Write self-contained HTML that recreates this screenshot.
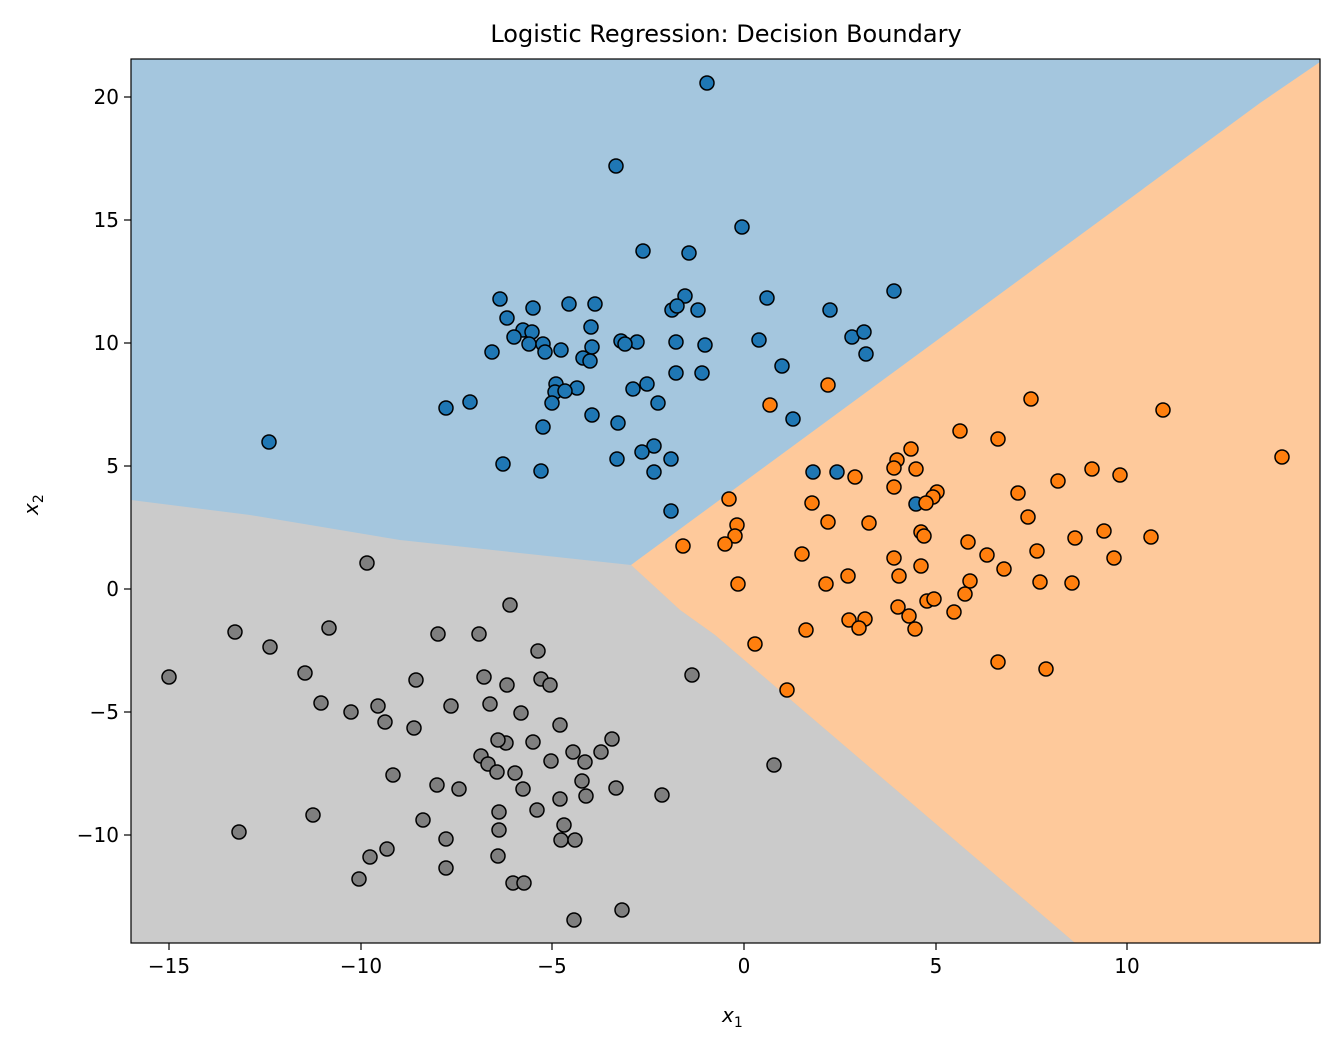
<!DOCTYPE html>
<html><head><meta charset="utf-8"><style>
html,body{margin:0;padding:0;background:#fff}
svg{display:block}
text{font-family:"DejaVu Sans","Liberation Sans",sans-serif;fill:#000}
</style></head><body>
<svg width="1340" height="1046" viewBox="0 0 1340 1046" xmlns="http://www.w3.org/2000/svg">
<defs><clipPath id="c"><rect x="131" y="59" width="1189" height="884"/></clipPath></defs>
<g clip-path="url(#c)">
<rect x="131" y="59" width="1189" height="884" fill="#a4c6de"/>
<polygon points="131,500 131,943 1075,943 715,635 680,610 631,565 400,540 250,515" fill="#cbcbcb"/>
<polygon points="631,565 680,610 715,635 1075,943 1320,943 1320,62 1260,103" fill="#fec99b"/>
</g>
<g stroke="#000" stroke-width="1.5">
<g fill="#1f77b4">
<circle cx="707" cy="83" r="7"/><circle cx="616" cy="166" r="7"/><circle cx="742" cy="227" r="7"/><circle cx="643" cy="251" r="7"/><circle cx="689" cy="253" r="7"/><circle cx="685" cy="296" r="7"/><circle cx="672" cy="310" r="7"/><circle cx="677" cy="306" r="7"/><circle cx="698" cy="310" r="7"/><circle cx="767" cy="298" r="7"/><circle cx="894" cy="291" r="7"/><circle cx="500" cy="299" r="7"/><circle cx="830" cy="310" r="7"/><circle cx="507" cy="318" r="7"/><circle cx="533" cy="308" r="7"/><circle cx="523" cy="330" r="7"/><circle cx="569" cy="304" r="7"/><circle cx="595" cy="304" r="7"/><circle cx="532" cy="332" r="7"/><circle cx="514" cy="337" r="7"/><circle cx="529" cy="344" r="7"/><circle cx="543" cy="344" r="7"/><circle cx="492" cy="352" r="7"/><circle cx="545" cy="352" r="7"/><circle cx="561" cy="350" r="7"/><circle cx="591" cy="327" r="7"/><circle cx="592" cy="347" r="7"/><circle cx="621" cy="341" r="7"/><circle cx="637" cy="342" r="7"/><circle cx="625" cy="344" r="7"/><circle cx="705" cy="345" r="7"/><circle cx="676" cy="342" r="7"/><circle cx="759" cy="340" r="7"/><circle cx="852" cy="337" r="7"/><circle cx="864" cy="332" r="7"/><circle cx="866" cy="354" r="7"/><circle cx="782" cy="366" r="7"/><circle cx="583" cy="358" r="7"/><circle cx="590" cy="361" r="7"/><circle cx="556" cy="384" r="7"/><circle cx="555" cy="392" r="7"/><circle cx="577" cy="388" r="7"/><circle cx="565" cy="391" r="7"/><circle cx="633" cy="389" r="7"/><circle cx="647" cy="384" r="7"/><circle cx="676" cy="373" r="7"/><circle cx="702" cy="373" r="7"/><circle cx="552" cy="403" r="7"/><circle cx="446" cy="408" r="7"/><circle cx="470" cy="402" r="7"/><circle cx="592" cy="415" r="7"/><circle cx="658" cy="403" r="7"/><circle cx="793" cy="419" r="7"/><circle cx="543" cy="427" r="7"/><circle cx="618" cy="423" r="7"/><circle cx="269" cy="442" r="7"/><circle cx="654" cy="446" r="7"/><circle cx="642" cy="452" r="7"/><circle cx="654" cy="472" r="7"/><circle cx="671" cy="459" r="7"/><circle cx="617" cy="459" r="7"/><circle cx="503" cy="464" r="7"/><circle cx="541" cy="471" r="7"/><circle cx="671" cy="511" r="7"/><circle cx="813" cy="472" r="7"/><circle cx="837" cy="472" r="7"/><circle cx="916" cy="504" r="7"/>
</g>
<g fill="#ff7f0e">
<circle cx="828" cy="385" r="7"/><circle cx="770" cy="405" r="7"/><circle cx="1031" cy="399" r="7"/><circle cx="1163" cy="410" r="7"/><circle cx="960" cy="431" r="7"/><circle cx="911" cy="449" r="7"/><circle cx="897" cy="460" r="7"/><circle cx="894" cy="468" r="7"/><circle cx="998" cy="439" r="7"/><circle cx="916" cy="469" r="7"/><circle cx="1282" cy="457" r="7"/><circle cx="894" cy="487" r="7"/><circle cx="1092" cy="469" r="7"/><circle cx="1120" cy="475" r="7"/><circle cx="1058" cy="481" r="7"/><circle cx="1018" cy="493" r="7"/><circle cx="937" cy="492" r="7"/><circle cx="933" cy="497" r="7"/><circle cx="926" cy="503" r="7"/><circle cx="812" cy="503" r="7"/><circle cx="729" cy="499" r="7"/><circle cx="1028" cy="517" r="7"/><circle cx="1104" cy="531" r="7"/><circle cx="1151" cy="537" r="7"/><circle cx="921" cy="532" r="7"/><circle cx="924" cy="536" r="7"/><circle cx="1075" cy="538" r="7"/><circle cx="737" cy="525" r="7"/><circle cx="735" cy="536" r="7"/><circle cx="725" cy="544" r="7"/><circle cx="683" cy="546" r="7"/><circle cx="828" cy="522" r="7"/><circle cx="869" cy="523" r="7"/><circle cx="968" cy="542" r="7"/><circle cx="802" cy="554" r="7"/><circle cx="1037" cy="551" r="7"/><circle cx="987" cy="555" r="7"/><circle cx="894" cy="558" r="7"/><circle cx="1004" cy="569" r="7"/><circle cx="1114" cy="558" r="7"/><circle cx="921" cy="566" r="7"/><circle cx="738" cy="584" r="7"/><circle cx="826" cy="584" r="7"/><circle cx="970" cy="581" r="7"/><circle cx="1040" cy="582" r="7"/><circle cx="1072" cy="583" r="7"/><circle cx="899" cy="576" r="7"/><circle cx="855" cy="477" r="7"/><circle cx="848" cy="576" r="7"/><circle cx="965" cy="594" r="7"/><circle cx="927" cy="601" r="7"/><circle cx="934" cy="599" r="7"/><circle cx="898" cy="607" r="7"/><circle cx="954" cy="612" r="7"/><circle cx="849" cy="620" r="7"/><circle cx="865" cy="619" r="7"/><circle cx="859" cy="628" r="7"/><circle cx="909" cy="616" r="7"/><circle cx="915" cy="629" r="7"/><circle cx="806" cy="630" r="7"/><circle cx="755" cy="644" r="7"/><circle cx="998" cy="662" r="7"/><circle cx="1046" cy="669" r="7"/><circle cx="787" cy="690" r="7"/>
</g>
<g fill="#7f7f7f">
<circle cx="367" cy="563" r="7"/><circle cx="510" cy="605" r="7"/><circle cx="235" cy="632" r="7"/><circle cx="270" cy="647" r="7"/><circle cx="329" cy="628" r="7"/><circle cx="438" cy="634" r="7"/><circle cx="479" cy="634" r="7"/><circle cx="538" cy="651" r="7"/><circle cx="169" cy="677" r="7"/><circle cx="305" cy="673" r="7"/><circle cx="416" cy="680" r="7"/><circle cx="484" cy="677" r="7"/><circle cx="507" cy="685" r="7"/><circle cx="541" cy="679" r="7"/><circle cx="550" cy="685" r="7"/><circle cx="692" cy="675" r="7"/><circle cx="321" cy="703" r="7"/><circle cx="378" cy="706" r="7"/><circle cx="490" cy="704" r="7"/><circle cx="351" cy="712" r="7"/><circle cx="385" cy="722" r="7"/><circle cx="451" cy="706" r="7"/><circle cx="521" cy="713" r="7"/><circle cx="414" cy="728" r="7"/><circle cx="560" cy="725" r="7"/><circle cx="481" cy="756" r="7"/><circle cx="506" cy="743" r="7"/><circle cx="533" cy="742" r="7"/><circle cx="573" cy="752" r="7"/><circle cx="601" cy="752" r="7"/><circle cx="612" cy="739" r="7"/><circle cx="585" cy="762" r="7"/><circle cx="498" cy="740" r="7"/><circle cx="393" cy="775" r="7"/><circle cx="437" cy="785" r="7"/><circle cx="459" cy="789" r="7"/><circle cx="488" cy="764" r="7"/><circle cx="515" cy="773" r="7"/><circle cx="497" cy="772" r="7"/><circle cx="523" cy="789" r="7"/><circle cx="551" cy="761" r="7"/><circle cx="582" cy="781" r="7"/><circle cx="616" cy="788" r="7"/><circle cx="662" cy="795" r="7"/><circle cx="774" cy="765" r="7"/><circle cx="560" cy="799" r="7"/><circle cx="586" cy="796" r="7"/><circle cx="537" cy="810" r="7"/><circle cx="423" cy="820" r="7"/><circle cx="313" cy="815" r="7"/><circle cx="499" cy="812" r="7"/><circle cx="564" cy="825" r="7"/><circle cx="499" cy="830" r="7"/><circle cx="239" cy="832" r="7"/><circle cx="446" cy="839" r="7"/><circle cx="561" cy="840" r="7"/><circle cx="575" cy="840" r="7"/><circle cx="370" cy="857" r="7"/><circle cx="387" cy="849" r="7"/><circle cx="498" cy="856" r="7"/><circle cx="446" cy="868" r="7"/><circle cx="359" cy="879" r="7"/><circle cx="513" cy="883" r="7"/><circle cx="524" cy="883" r="7"/><circle cx="574" cy="920" r="7"/><circle cx="622" cy="910" r="7"/>
</g>
</g>
<rect x="131" y="59" width="1189" height="884" fill="none" stroke="#000" stroke-width="1.2"/>
<g stroke="#000" stroke-width="1.2">
<line x1="169" y1="943" x2="169" y2="950"/><line x1="361" y1="943" x2="361" y2="950"/><line x1="552" y1="943" x2="552" y2="950"/><line x1="744" y1="943" x2="744" y2="950"/><line x1="936" y1="943" x2="936" y2="950"/><line x1="1127" y1="943" x2="1127" y2="950"/>
<line x1="124" y1="97" x2="131" y2="97"/><line x1="124" y1="220" x2="131" y2="220"/><line x1="124" y1="343" x2="131" y2="343"/><line x1="124" y1="466" x2="131" y2="466"/><line x1="124" y1="589" x2="131" y2="589"/><line x1="124" y1="712" x2="131" y2="712"/><line x1="124" y1="835" x2="131" y2="835"/>
</g>
<g font-size="20" text-anchor="middle">
<text x="169" y="973">−15</text><text x="361" y="973">−10</text><text x="552" y="973">−5</text><text x="744" y="973">0</text><text x="936" y="973">5</text><text x="1127" y="973">10</text>
</g>
<g font-size="20" text-anchor="end">
<text x="119" y="104">20</text><text x="119" y="227">15</text><text x="119" y="350">10</text><text x="119" y="473">5</text><text x="119" y="596">0</text><text x="119" y="719">−5</text><text x="119" y="842">−10</text>
</g>
<text x="726" y="42" font-size="24" text-anchor="middle">Logistic Regression: Decision Boundary</text>
<text x="722" y="1022" font-size="20" font-style="italic">x<tspan font-size="14" dy="5" font-style="normal">1</tspan></text>
<text transform="translate(38,515) rotate(-90)" font-size="20" font-style="italic">x<tspan font-size="14" dy="5" font-style="normal">2</tspan></text>
</svg>
</body></html>
